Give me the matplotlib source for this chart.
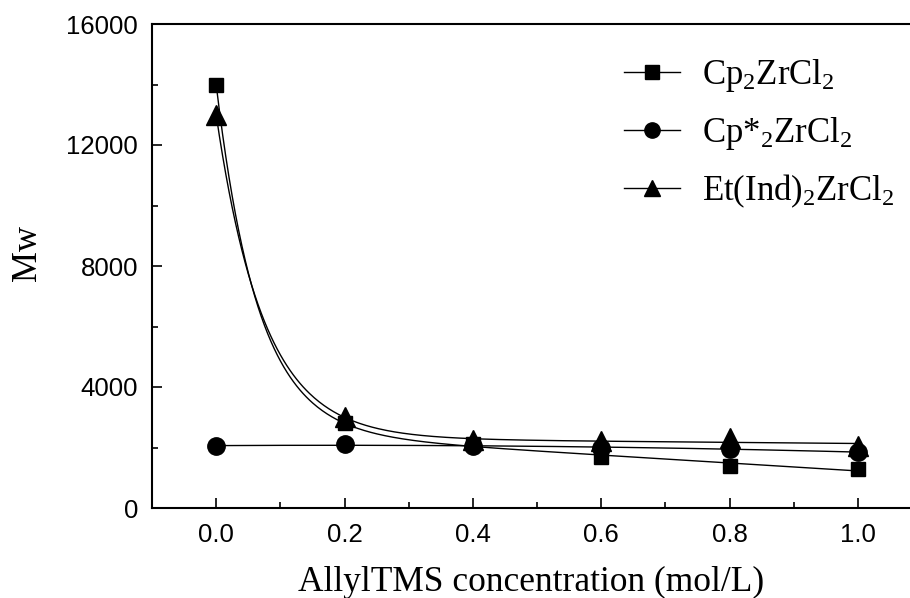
import numpy as np
import matplotlib
matplotlib.use('Agg')
import matplotlib.pyplot as plt
from matplotlib.ticker import MultipleLocator, FixedLocator, FixedFormatter

# ---- data ----
conc = [0.0, 0.2, 0.4, 0.6, 0.8, 1.0]
mw_cp = [14000, 2800, 2100, 1700, 1400, 1300]
mw_cpstar = [2050, 2100, 2050, 2000, 1950, 1850]
mw_etind = [13000, 3000, 2250, 2200, 2300, 2050]
series_labels = [r'Cp$_2$ZrCl$_2$', r'Cp*$_2$ZrCl$_2$', r'Et(Ind)$_2$ZrCl$_2$']
xtick_vals = [0.0, 0.2, 0.4, 0.6, 0.8, 1.0]
xtick_labels = ['0.0', '0.2', '0.4', '0.6', '0.8', '1.0']
ytick_vals = [0, 4000, 8000, 12000, 16000]
ytick_labels = ['0', '4000', '8000', '12000', '16000']
xlabel = 'AllylTMS concentration (mol/L)'
ylabel = 'Mw'

plt.rcParams['mathtext.fontset'] = 'custom'
plt.rcParams['mathtext.rm'] = 'Liberation Serif'
plt.rcParams['mathtext.it'] = 'Liberation Serif:italic'
plt.rcParams['mathtext.default'] = 'rm'


def exp_fit(x, y, xs):
    x = np.asarray(x, float)
    y = np.asarray(y, float)
    best = None
    for t in np.linspace(0.02, 0.4, 381):
        M = np.column_stack([np.exp(-x / t), np.ones_like(x), x])
        coef, *_ = np.linalg.lstsq(M, y, rcond=None)
        r = np.sum((M @ coef - y) ** 2)
        if best is None or r < best[0]:
            best = (r, t, coef)
    _, t, c = best
    return c[0] * np.exp(-xs / t) + c[1] + c[2] * xs


fig = plt.figure(figsize=(9.1, 5.98), dpi=100)
ax = fig.add_axes([152 / 910, 1 - 508 / 598, (922 - 152) / 910, (508 - 24) / 598])

xs = np.linspace(0, 1, 400)
ax.plot(xs, exp_fit(conc, mw_cp, xs), color='black', lw=1.0)
ax.plot(xs, np.polyval(np.polyfit(conc, mw_cpstar, 2), xs), color='black', lw=1.0)
ax.plot(xs, exp_fit(conc, mw_etind, xs), color='black', lw=1.0)

ax.plot(conc, mw_cp, ls='none', marker='s', ms=10, color='black')
ax.plot(conc, mw_cpstar, ls='none', marker='o', ms=12.5, color='black')
ax.plot(conc, mw_etind, ls='none', marker='^', ms=14, color='black')

# legend proxies
handles = [
    plt.Line2D([], [], color='black', lw=1.0, marker='s', ms=10),
    plt.Line2D([], [], color='black', lw=1.0, marker='o', ms=11),
    plt.Line2D([], [], color='black', lw=1.0, marker='^', ms=12),
]
leg = ax.legend(handles, series_labels, loc='upper left',
                bbox_to_anchor=(624 / 910, 1 - 57 / 598), bbox_transform=fig.transFigure,
                frameon=False, prop={'family': 'Liberation Serif', 'size': 25},
                handlelength=1.6, handletextpad=0.65, labelspacing=0.6, borderpad=0,
                borderaxespad=0)

ax.set_xlim(-0.1, 1.1)
ax.set_ylim(0, 16000)
ax.xaxis.set_major_locator(FixedLocator(xtick_vals))
ax.xaxis.set_major_formatter(FixedFormatter(xtick_labels))
ax.yaxis.set_major_locator(FixedLocator(ytick_vals))
ax.yaxis.set_major_formatter(FixedFormatter(ytick_labels))
ax.xaxis.set_minor_locator(MultipleLocator(0.1))
ax.yaxis.set_minor_locator(MultipleLocator(2000))
ax.tick_params(which='both', direction='in', top=False, right=False, width=1.2)
ax.tick_params(which='major', length=7)
ax.tick_params(which='minor', length=4)
ax.tick_params(axis='x', pad=11)
ax.tick_params(axis='y', pad=10)
for lab in ax.get_xticklabels() + ax.get_yticklabels():
    lab.set_fontfamily('Liberation Sans')
    lab.set_fontsize(18.5)
for sp in ax.spines.values():
    sp.set_linewidth(1.5)

ax.set_xlabel(xlabel, fontfamily='Liberation Serif', fontsize=25.5)
ax.xaxis.set_label_coords(0.492, -0.12)
ax.set_ylabel(ylabel, fontfamily='Liberation Serif', fontsize=25)
ax.yaxis.set_label_coords(-0.14, 0.527)

fig.savefig('out.png', dpi=100)
